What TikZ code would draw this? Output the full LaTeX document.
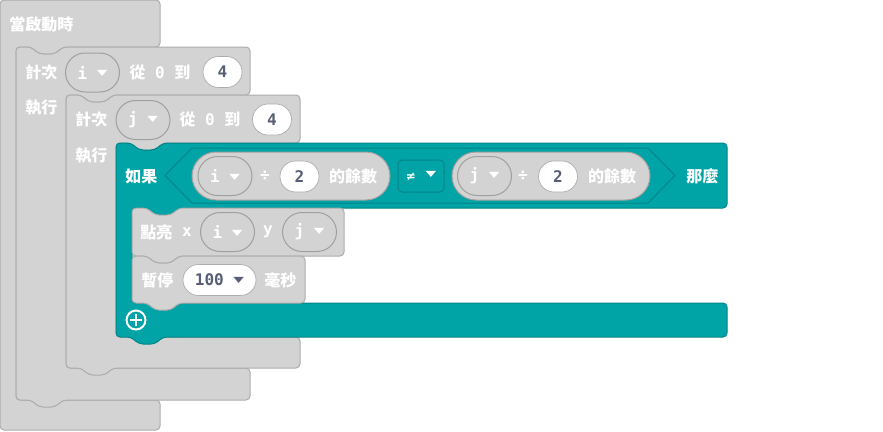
\documentclass[tikz,border=0pt]{standalone}
\usepackage{fontspec}
\setmonofont{DejaVu Sans Mono}
\newfontfamily\cjk{Noto Sans CJK TC}
\newfontfamily\symfont{DejaVu Sans}
\usepackage{tikz}
\usetikzlibrary{shapes.misc}
\definecolor{blkgray}{RGB}{211,211,211}
\definecolor{blkline}{RGB}{172,172,172}
\definecolor{pillline}{RGB}{160,160,160}
\definecolor{tealc}{RGB}{0,164,166}
\definecolor{tealline}{RGB}{0,133,135}
\definecolor{numtxt}{RGB}{87,94,117}
\newdimen\pxu \pxu=0.75pt
\newcommand{\zh}[1]{{\cjk #1}}
\newcommand{\ddw}{\raisebox{2.6pt}{\scalebox{1.3}[0.75]{\symfont\fontsize{8}{8}\selectfont ▼}}}
\tikzset{
    blk/.style = {draw=blkline, fill=blkgray, line width=0.75pt, rounded corners=3pt},
    blkif/.style = {draw=tealline, fill=tealc, line width=0.75pt, rounded corners=3pt},
    lbl/.style = {inner sep=0pt, text=white, font=\ttfamily\bfseries\fontsize{12}{14}\selectfont},
    ddpill/.style = {rounded rectangle, draw=pillline, fill=blkgray, line width=0.75pt, minimum width=54\pxu, minimum height=39\pxu, inner sep=0pt, text=white, font=\ttfamily\bfseries\fontsize{12}{14}\selectfont},
    numpill/.style = {rounded rectangle, draw=blkline, fill=white, line width=0.5pt, minimum width=39\pxu, minimum height=31\pxu, inner sep=0pt, text=numtxt, font=\ttfamily\bfseries\fontsize{12}{14}\selectfont},
    modpill/.style = {rounded rectangle, draw=pillline, fill=blkgray, line width=0.75pt, minimum width=198\pxu, minimum height=48\pxu, inner sep=0pt},
    opbox/.style = {rectangle, rounded corners=3pt, draw=tealline, fill=tealc, line width=0.75pt, minimum width=46\pxu, minimum height=32\pxu, inner sep=0pt, text=white, font=\ttfamily\bfseries\fontsize{12}{14}\selectfont},
    plus/.style = {white, line width=2.2pt}
}
\begin{document}
\begin{tikzpicture}[x=0.75pt, y=-0.75pt]
\useasboundingbox (0,0) rectangle (883,432);
% blocks
\draw[blk] (0,0) -- (160,0) -- (160,47) -- (63,47) -- (55,54) -- (39,54) -- (31,47) -- (16,47) -- (16,400) -- (160,400) -- (160,430) -- (0,430) -- cycle;
\draw[blk] (16,47) -- (31,47) -- (39,54) -- (55,54) -- (63,47) -- (250,47) -- (250,95) -- (113,95) -- (105,102) -- (89,102) -- (81,95) -- (66,95) -- (66,368) -- (250,368) -- (250,400) -- (63,400) -- (55,407) -- (39,407) -- (31,400) -- (16,400) -- cycle;
\draw[blk] (66,95) -- (81,95) -- (89,102) -- (105,102) -- (113,95) -- (300,95) -- (300,143) -- (163,143) -- (155,150) -- (139,150) -- (131,143) -- (116,143) -- (116,337) -- (300,337) -- (300,368) -- (113,368) -- (105,375) -- (89,375) -- (81,368) -- (66,368) -- cycle;
\draw[blkif] (116,143) -- (131,143) -- (139,150) -- (155,150) -- (163,143) -- (727,143) -- (727,208) -- (179,208) -- (171,215) -- (155,215) -- (147,208) -- (132,208) -- (132,303) -- (727,303) -- (727,337) -- (163,337) -- (155,344) -- (139,344) -- (131,337) -- (116,337) -- cycle;
\draw[blk] (132,208) -- (147,208) -- (155,215) -- (171,215) -- (179,208) -- (344,208) -- (344,256) -- (179,256) -- (171,263) -- (155,263) -- (147,256) -- (132,256) -- cycle;
\draw[blk] (132,256) -- (147,256) -- (155,263) -- (171,263) -- (179,256) -- (305,256) -- (305,303) -- (179,303) -- (171,310) -- (155,310) -- (147,303) -- (132,303) -- cycle;
\draw[draw=tealline, fill=tealc, line width=0.75pt] (165,175.5) -- (192,148) -- (648,148) -- (675,175.5) -- (648,203) -- (192,203) -- cycle;
%
\node[lbl, anchor=west] at (9,24) (start) {\zh{當啟動時}};
%
\node[lbl, anchor=west] at (25,72) (fori) {\zh{計次}};
\node[ddpill] at (92.5,72.5) (vari) {i \ddw};
\node[lbl] at (160,72) (rngi) {\zh{從} 0 \zh{到}};
\node[numpill] at (222.5,72) (toi) {4};
\node[lbl, anchor=west] at (25,108) (doi) {\zh{執行}};
%
\node[lbl, anchor=west] at (75,119.5) (forj) {\zh{計次}};
\node[ddpill] at (143,120) (varj) {j \ddw};
\node[lbl] at (210,119.5) (rngj) {\zh{從} 0 \zh{到}};
\node[numpill] at (272,119.5) (toj) {4};
\node[lbl, anchor=west] at (75,156) (doj) {\zh{執行}};
%
\node[lbl, anchor=west] at (125,176) (cond) {\zh{如果}};
\node[modpill] at (291,176) (modi) {};
\node[ddpill] at (225,176) (mi) {i \ddw};
\node[lbl] at (265,176) (divi) {÷};
\node[numpill] at (299.5,176.5) (twoi) {2};
\node[lbl] at (353,176) (remi) {\zh{的餘數}};
\node[opbox] at (421,176) (neq) {{\symfont\fontsize{9}{9}\selectfont ≠} \ddw};
\node[modpill] at (551,176) (modj) {};
\node[ddpill] at (484.5,176) (mj) {j \ddw};
\node[lbl] at (523,176) (divj) {÷};
\node[numpill] at (558,176.5) (twoj) {2};
\node[lbl] at (612,176) (remj) {\zh{的餘數}};
\node[lbl, anchor=west] at (686,176) (then) {\zh{那麼}};
%
\node[lbl, anchor=west] at (140,232) (plot) {\zh{點亮}};
\node[lbl] at (187,232) (px) {x};
\node[ddpill] at (227.5,232) (pi) {i \ddw};
\node[lbl] at (268,232) (py) {y};
\node[ddpill] at (309.5,232) (pj) {j \ddw};
%
\node[lbl, anchor=west] at (141,280) (pause) {\zh{暫停}};
\node[numpill, minimum width=73\pxu] at (219.5,280) (ms) {100 \ddw};
\node[lbl, anchor=west] at (264,280) (unit) {\zh{毫秒}};
%
\node[circle, draw=white, line width=1.5pt, minimum size=19\pxu, inner sep=0pt] at (136,320) (add) {};
\draw[plus] ([xshift=-4.5pt]add.center) -- ([xshift=4.5pt]add.center);
\draw[plus] ([yshift=-4.5pt]add.center) -- ([yshift=4.5pt]add.center);
\end{tikzpicture}
\end{document}
